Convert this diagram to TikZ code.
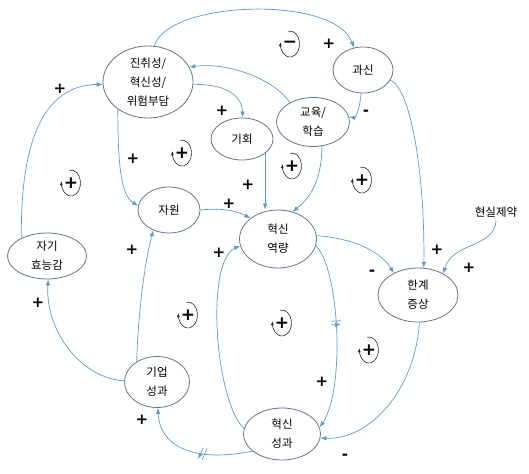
\documentclass[tikz,border=0pt]{standalone}
\usepackage{fontspec}
\setmainfont{Noto Sans CJK KR}
\newfontfamily\signfont{DejaVu Sans}
\usetikzlibrary{shapes.geometric,arrows.meta,decorations.markings}
\definecolor{linkblue}{RGB}{91,155,213}
\definecolor{ovalgray}{RGB}{100,118,145}
\definecolor{loopgray}{RGB}{40,40,40}
\newcommand{\fbLoop}[3]{%
  \node[loopsign] (#1) at (#2) {#3};
  \draw[loopgray, line width=0.6pt, -{Latex[length=4pt,width=3pt]}] (#1.center) ++(-1.65pt,12.8pt) arc[start angle=100, end angle=-188, x radius=9.5pt, y radius=13pt];
}
\begin{document}
\begin{tikzpicture}[x=1pt,y=-1pt,
  var/.style={ellipse, draw=ovalgray, line width=0.8pt, inner sep=0pt, align=center, font=\fontsize{11.5}{19}\selectfont},
  link/.style={draw=linkblue, line width=0.7pt, -{Latex[length=6pt,width=4.5pt]}},
  sgn/.style={font=\signfont\bfseries\fontsize{15}{15}\selectfont, inner sep=0pt},
  loopsign/.style={font=\signfont\bfseries\fontsize{17}{17}\selectfont, inner sep=0pt},
  delay/.style={postaction={decorate, decoration={markings, mark=at position #1 with {\draw[linkblue, line width=0.7pt] (-1.8pt,-5pt)--(-1.8pt,5pt) (1.8pt,-5pt)--(1.8pt,5pt);}}}},
  slantdelay/.style={postaction={decorate, decoration={markings, mark=at position #1 with {\draw[linkblue, line width=0.7pt] (-4pt,-6pt)--(-1pt,6pt) (0pt,-6pt)--(3pt,6pt);}}}}
]
\path[use as bounding box, fill=white] (0,0) rectangle (529,473);

% variables
\node[var, minimum width=90pt, minimum height=72pt] (A) at (148,82) {진취성/\\혁신성/\\위험부담};
\node[var, minimum width=62pt, minimum height=42pt] (B) at (242,139) {기회};
\node[var, minimum width=73pt, minimum height=49pt] (C) at (313,122) {교육/\\학습};
\node[var, minimum width=60pt, minimum height=46pt] (D) at (363,70) {과신};
\node[var, minimum width=62pt, minimum height=46pt] (E) at (169,210) {자원};
\node[var, minimum width=77pt, minimum height=58pt] (F) at (278,239) {혁신\\역량};
\node[var, minimum width=79pt, minimum height=46pt] (G) at (47,256) {자기\\효능감};
\node[var, minimum width=65pt, minimum height=51pt] (H) at (157,382) {기업\\성과};
\node[var, minimum width=77pt, minimum height=52pt] (I) at (282,434) {혁신\\성과};
\node[var, minimum width=80pt, minimum height=54pt] (J) at (418,295) {한계\\증상};
\node[font=\fontsize{11.5}{19}\selectfont, inner sep=3pt] (K) at (496,212) {현실제약};

% links
\draw[link] (A.80) .. controls (168,0) and (335,-5) .. (D.112);
\draw[link] (C.140) .. controls (275,80) and (230,62) .. (A.20);
\draw[link] (A.-3) .. controls (225,84) and (242,95) .. (B.88);
\draw[link] (A.222) .. controls (118,160) and (120,195) .. (E.172);
\draw[link] (D.265) .. controls (360,110) and (355,118) .. (C.8);
\draw[link] (D.-20) .. controls (412,90) and (425,180) .. (J.78);
\draw[link] (K.south) .. controls (495,248) and (452,242) .. (J.40);
\draw[link] (B.-32) -- (B.-32 |- F.north);
\draw[link] (C.-70) .. controls (322,180) and (310,198) .. (F.62);
\draw[link] (E.0) .. controls (220,208) and (235,210) .. (F.143);
\draw[link] (F.5) .. controls (350,238) and (380,250) .. (J.138);
\draw[link, delay=0.43] (F.-10) .. controls (340,270) and (345,390) .. (I.10);
\draw[link] (I.172) .. controls (215,400) and (205,262) .. (F.190);
\draw[link] (J.-87) .. controls (415,390) and (370,440) .. (I.-6);
\draw[link, slantdelay=0.42] (I.-150) .. controls (200,462) and (160,450) .. (H.-88);
\draw[link] (H.135) .. controls (138,320) and (143,270) .. (E.-128);
\draw[link] (H.178) .. controls (80,378) and (45,330) .. (G.-87);
\draw[link] (G.145) .. controls (20,120) and (55,85) .. (A.183);

% polarity labels
\node[sgn] (s1) at (329,44) {+};
\node[sgn] (s2) at (366,113) {-};
\node[sgn] (s3) at (222,111) {+};
\node[sgn] (s4) at (133,159) {+};
\node[sgn] (s5) at (248,185) {+};
\node[sgn] (s6) at (229,204) {+};
\node[sgn] (s7) at (437,250) {+};
\node[sgn] (s8) at (469,268) {+};
\node[sgn] (s9) at (372,273) {-};
\node[sgn] (s10) at (322,382) {+};
\node[sgn] (s11) at (219,253) {+};
\node[sgn] (s12) at (345,457) {-};
\node[sgn] (s13) at (142,420) {+};
\node[sgn] (s14) at (132,250) {+};
\node[sgn] (s15) at (38,303) {+};
\node[sgn] (s16) at (60,89) {+};

% loop markers
\fbLoop{L1}{290,44}{−}
\fbLoop{L2}{71,183}{+}
\fbLoop{L3}{182,153}{+}
\fbLoop{L4}{292,166}{+}
\fbLoop{L5}{362,180}{+}
\fbLoop{L6}{188,315}{+}
\fbLoop{L7}{282,323}{+}
\fbLoop{L8}{369,350}{+}
\end{tikzpicture}
\end{document}
